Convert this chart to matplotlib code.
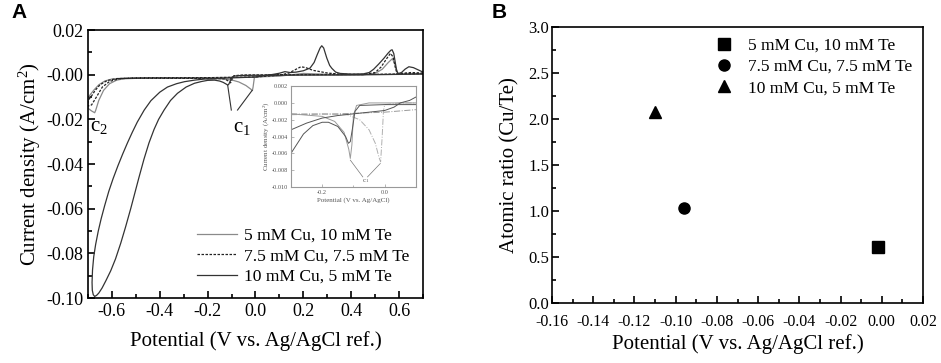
import numpy as np
import matplotlib
matplotlib.use('Agg')
import matplotlib.pyplot as plt
from matplotlib.ticker import MultipleLocator, FormatStrFormatter

plt.rcParams['font.family'] = ['Liberation Serif', 'DejaVu Serif']
plt.rcParams['mathtext.fontset'] = 'custom'
plt.rcParams['mathtext.rm'] = 'Liberation Serif'
plt.rcParams['mathtext.it'] = 'Liberation Serif:italic'
plt.rcParams['axes.unicode_minus'] = False

# ---- data panel A : cyclic voltammograms (V, A/cm2) ----
labels_cv = ['5 mM Cu, 10 mM Te', '7.5 mM Cu, 7.5 mM Te', '10 mM Cu, 5 mM Te']

cv_5cu = [(0.70, 0.0003), (0.55, 0.0001), (0.40, 0.0000), (0.20, -0.0001), (0.05, -0.0003),
          (0.00, -0.0006), (-0.005, -0.0015), (-0.010, -0.0055), (-0.013, -0.0071),
          (-0.02, -0.0064), (-0.04, -0.0048), (-0.07, -0.0032), (-0.10, -0.0023),
          (-0.15, -0.0018), (-0.25, -0.0016), (-0.40, -0.0016), (-0.50, -0.0016),
          (-0.55, -0.0018), (-0.58, -0.0024), (-0.61, -0.0040), (-0.635, -0.0070),
          (-0.655, -0.0115), (-0.668, -0.0160), (-0.672, -0.0170), (-0.685, -0.0162),
          (-0.70, -0.0150),
          (-0.70, -0.0105), (-0.69, -0.0088), (-0.675, -0.0068), (-0.655, -0.0045),
          (-0.63, -0.0028), (-0.60, -0.0019), (-0.55, -0.0015), (-0.40, -0.0014),
          (-0.20, -0.0013), (0.00, -0.0010), (0.10, -0.0006), (0.15, 0.0000),
          (0.20, 0.0006), (0.25, 0.0004), (0.35, 0.0000), (0.45, 0.0000), (0.50, 0.0006),
          (0.53, 0.0025), (0.555, 0.0055), (0.572, 0.0072), (0.582, 0.0050),
          (0.59, 0.0015), (0.60, 0.0002), (0.65, 0.0003), (0.70, 0.0005)]

cv_75cu = [(0.70, 0.0005), (0.50, 0.0002), (0.30, 0.0001), (0.10, 0.0000), (-0.05, -0.0001),
           (-0.09, -0.0004), (-0.098, -0.0020), (-0.104, -0.0036), (-0.11, -0.0030),
           (-0.13, -0.0018), (-0.20, -0.0016), (-0.40, -0.0015), (-0.52, -0.0015),
           (-0.57, -0.0018), (-0.61, -0.0030), (-0.64, -0.0055), (-0.665, -0.0100),
           (-0.685, -0.0135), (-0.70, -0.0140),
           (-0.70, -0.0115), (-0.685, -0.0095), (-0.67, -0.0070), (-0.65, -0.0045),
           (-0.62, -0.0026), (-0.58, -0.0017), (-0.45, -0.0014), (-0.20, -0.0013),
           (0.00, -0.0010), (0.10, -0.0002), (0.14, 0.0008), (0.17, 0.0025), (0.19, 0.0036),
           (0.21, 0.0032), (0.24, 0.0020), (0.30, 0.0008), (0.36, 0.0002), (0.45, 0.0001),
           (0.50, 0.0010), (0.525, 0.0035), (0.55, 0.0075), (0.564, 0.0096), (0.575, 0.0080),
           (0.585, 0.0030), (0.592, 0.0005), (0.65, 0.0010), (0.70, 0.0008)]

cv_10cu = [(0.70, 0.0004), (0.60, 0.0002), (0.50, 0.0001), (0.40, 0.0000), (0.30, -0.0001),
           (0.20, -0.0001), (0.10, -0.0002), (0.00, -0.0002), (-0.06, -0.0003),
           (-0.09, -0.0006), (-0.10, -0.0012), (-0.106, -0.0030), (-0.112, -0.0043),
           (-0.116, -0.0046), (-0.122, -0.0042), (-0.135, -0.0034), (-0.15, -0.0028),
           (-0.171, -0.0024), (-0.20, -0.0025), (-0.225, -0.0030), (-0.255, -0.0038),
           (-0.29, -0.0055), (-0.326, -0.0083), (-0.355, -0.0115), (-0.382, -0.0158),
           (-0.405, -0.0200), (-0.424, -0.0245), (-0.445, -0.0305), (-0.466, -0.0378),
           (-0.487, -0.0460), (-0.505, -0.0533), (-0.521, -0.0598), (-0.543, -0.0682),
           (-0.563, -0.0754), (-0.585, -0.0825), (-0.605, -0.0878), (-0.625, -0.0922),
           (-0.641, -0.0955), (-0.655, -0.0978), (-0.664, -0.0988), (-0.672, -0.0993),
           (-0.678, -0.0985), (-0.682, -0.0965), (-0.683, -0.0930), (-0.681, -0.0874),
           (-0.676, -0.0815), (-0.668, -0.0760), (-0.657, -0.0700), (-0.645, -0.0645),
           (-0.630, -0.0585), (-0.613, -0.0522), (-0.595, -0.0465), (-0.575, -0.0408),
           (-0.555, -0.0355), (-0.535, -0.0305), (-0.515, -0.0258), (-0.494, -0.0212),
           (-0.465, -0.0158), (-0.437, -0.0116), (-0.400, -0.0078), (-0.368, -0.0055),
           (-0.330, -0.0040), (-0.297, -0.0031), (-0.255, -0.0024), (-0.213, -0.0019),
           (-0.15, -0.0016), (-0.10, -0.0014), (-0.05, -0.0012), (0.00, -0.0010),
           (0.04, -0.0004), (0.08, 0.0003), (0.10, 0.0007), (0.123, 0.0014), (0.145, 0.0010),
           (0.17, 0.0012), (0.20, 0.0018), (0.228, 0.0030), (0.245, 0.0055), (0.258, 0.0090),
           (0.270, 0.0120), (0.277, 0.0130), (0.285, 0.0120), (0.298, 0.0075), (0.31, 0.0042),
           (0.319, 0.0029), (0.335, 0.0012), (0.354, 0.0006), (0.40, 0.0003), (0.45, 0.0004),
           (0.475, 0.0010), (0.494, 0.0025), (0.515, 0.0048), (0.536, 0.0073), (0.555, 0.0098),
           (0.566, 0.0110), (0.571, 0.0112), (0.578, 0.0095), (0.585, 0.0050), (0.589, 0.0025),
           (0.595, 0.0005), (0.61, 0.0010), (0.625, 0.0025), (0.641, 0.0036), (0.66, 0.0032),
           (0.68, 0.0022), (0.70, 0.0012)]

# inset (slower scan around c1)
in_5cu = [(-0.30, -0.0013), (-0.20, -0.0013), (-0.12, -0.0014), (-0.08, -0.0020),
          (-0.05, -0.0032), (-0.03, -0.0048), (-0.018, -0.0065), (-0.013, -0.0070),
          (-0.008, -0.0040), (-0.004, -0.0010), (0.00, -0.0002), (0.05, 0.0000), (0.10, 0.0000)]
in_5cu_back = [(-0.30, -0.0014), (-0.15, -0.0013), (0.00, -0.0011), (0.10, -0.0008)]
in_75cu = [(-0.30, -0.0013), (-0.20, -0.0016), (-0.16, -0.0022), (-0.13, -0.0035),
           (-0.115, -0.0055), (-0.11, -0.0066), (-0.105, -0.0050), (-0.10, -0.0015),
           (-0.09, -0.0003), (-0.05, 0.0000), (0.00, 0.0000), (0.10, 0.0000)]
in_10cu = [(0.10, -0.0002), (0.00, -0.0002), (-0.08, -0.0003), (-0.095, -0.0010),
           (-0.103, -0.0030), (-0.11, -0.0046), (-0.116, -0.0048), (-0.125, -0.0040),
           (-0.15, -0.0028), (-0.18, -0.0023), (-0.20, -0.0023), (-0.23, -0.0027),
           (-0.26, -0.0037), (-0.30, -0.0060)]
in_10cu_back = [(-0.30, -0.0032), (-0.25, -0.0024), (-0.20, -0.0018), (-0.15, -0.0015),
                (-0.10, -0.0013), (-0.05, -0.0011), (0.00, -0.0009), (0.03, -0.0005),
                (0.05, 0.0000), (0.08, 0.0003), (0.10, 0.0007)]

# ---- data panel B ----
labels_b = ['5 mM Cu, 10 mM Te', '7.5 mM Cu, 7.5 mM Te', '10 mM Cu, 5 mM Te']
pot_b = [-0.002, -0.096, -0.110]
ratio_b = [0.61, 1.03, 2.08]
markers_b = ['s', 'o', '^']

fig = plt.figure(figsize=(9.41, 3.63), dpi=100)
axA = fig.add_axes([0.0935, 0.179, 0.356, 0.738])
axB = fig.add_axes([0.5866, 0.1653, 0.3943, 0.7603])
axI = fig.add_axes([0.3092, 0.4848, 0.1328, 0.278])


def xy(pts):
    a = np.array(pts)
    return a[:, 0], a[:, 1]


def style_ax(ax, lw=1.0):
    for s in ax.spines.values():
        s.set_linewidth(lw)
    ax.tick_params(which='both', direction='in', top=False, right=False)
    ax.tick_params(which='major', length=5, width=lw)
    ax.tick_params(which='minor', length=3, width=lw)


# panel A
x, y = xy(cv_5cu)
axA.plot(x, y, color='#8a8a8a', lw=0.9, label=labels_cv[0])
x, y = xy(cv_75cu)
axA.plot(x, y, color='#222222', lw=0.9, ls=(0, (2, 1.2)), label=labels_cv[1])
x, y = xy(cv_10cu)
axA.plot(x, y, color='#333333', lw=0.9, label=labels_cv[2])
axA.set_xlim(-0.7, 0.7)
axA.set_ylim(-0.10, 0.02)
axA.xaxis.set_major_locator(MultipleLocator(0.2))
axA.xaxis.set_minor_locator(MultipleLocator(0.1))
axA.yaxis.set_major_locator(MultipleLocator(0.02))
axA.yaxis.set_minor_locator(MultipleLocator(0.01))
axA.xaxis.set_major_formatter(FormatStrFormatter('%.1f'))
axA.yaxis.set_major_formatter(FormatStrFormatter('%.2f'))
style_ax(axA, 1.2)
axA.tick_params(labelsize=13)
axA.set_xlabel('Potential (V vs. Ag/AgCl ref.)', fontsize=15, labelpad=8)
axA.set_ylabel('Current density (A/cm$^\\mathrm{2}$)', fontsize=15, labelpad=2)
axA.legend(loc='lower right', bbox_to_anchor=(1.0, 0.0), frameon=False, fontsize=12.6,
           handlelength=2.3, labelspacing=0.25, borderaxespad=0.35, handletextpad=0.4)
axA.text(-0.655, -0.0232, 'c$_\\mathrm{2}$', fontsize=15, ha='center', va='center')
axA.text(-0.058, -0.0238, 'c$_\\mathrm{1}$', fontsize=15, ha='center', va='center')
axA.plot([-0.101, -0.116], [-0.0158, -0.0048], color='#333333', lw=0.8)
axA.plot([-0.075, -0.014], [-0.0158, -0.0070], color='#333333', lw=0.8)

# inset
x, y = xy(in_5cu)
axI.plot(x, y, color='#b0b0b0', lw=0.7, ls='-.')
x, y = xy(in_5cu_back)
axI.plot(x, y, color='#9a9a9a', lw=0.7, ls='-.')
x, y = xy(in_75cu)
axI.plot(x, y, color='#9a9a9a', lw=0.7)
x, y = xy(in_10cu)
axI.plot(x, y, color='#555555', lw=0.7)
x, y = xy(in_10cu_back)
axI.plot(x, y, color='#555555', lw=0.7)
axI.plot([-0.07, -0.11], [-0.0088, -0.0068], color='#777777', lw=0.5)
axI.plot([-0.055, -0.014], [-0.0088, -0.0072], color='#777777', lw=0.5)
axI.text(-0.062, -0.0093, 'c$_\\mathrm{1}$', fontsize=5, ha='center', va='center', color='#555555')
axI.set_xlim(-0.3, 0.1)
axI.set_ylim(-0.010, 0.002)
axI.xaxis.set_major_locator(MultipleLocator(0.2))
axI.xaxis.set_minor_locator(MultipleLocator(0.1))
axI.yaxis.set_major_locator(MultipleLocator(0.002))
axI.xaxis.set_major_formatter(FormatStrFormatter('%.1f'))
axI.yaxis.set_major_formatter(FormatStrFormatter('%.3f'))
for s in axI.spines.values():
    s.set_color('#999999')
    s.set_linewidth(0.8)
axI.tick_params(which='both', direction='in', labelsize=4.5, colors='#555555', pad=2)
axI.tick_params(which='major', length=2.5, width=0.5, color='#999999')
axI.tick_params(which='minor', length=1.5, width=0.5, color='#999999')
axI.set_xlabel('Potential (V vs. Ag/AgCl)', fontsize=5, color='#555555', labelpad=2)
axI.set_ylabel('Current density (A/cm$^\\mathrm{2}$)', fontsize=5, color='#555555', labelpad=1)

# panel B
for px, py, m, lab in zip(pot_b, ratio_b, markers_b, labels_b):
    axB.plot(px, py, ls='none', marker=m, color='black', markersize=8 if m != '^' else 9, label=lab)
axB.set_xlim(-0.16, 0.02)
axB.set_ylim(0.0, 3.0)
axB.xaxis.set_major_locator(MultipleLocator(0.02))
axB.xaxis.set_minor_locator(MultipleLocator(0.01))
axB.yaxis.set_major_locator(MultipleLocator(0.5))
axB.yaxis.set_minor_locator(MultipleLocator(0.25))
axB.xaxis.set_major_formatter(FormatStrFormatter('%.2f'))
axB.yaxis.set_major_formatter(FormatStrFormatter('%.1f'))
style_ax(axB, 1.2)
axB.tick_params(axis='x', labelsize=11.5, pad=8)
axB.tick_params(axis='y', labelsize=12, pad=2)
axB.set_xlabel('Potential (V vs. Ag/AgCl ref.)', fontsize=15, labelpad=3)
axB.set_ylabel('Atomic ratio (Cu/Te)', fontsize=15, labelpad=6)
axB.legend(loc='upper right', frameon=False, fontsize=12.5, handlelength=1.2,
           labelspacing=0.3, borderaxespad=0.2, handletextpad=0.8)

fig.text(0.012, 0.965, 'A', fontsize=15, fontweight='bold', family='Liberation Sans', va='center')
fig.text(0.522, 0.965, 'B', fontsize=15, fontweight='bold', family='Liberation Sans', va='center')

fig.savefig('out.png', dpi=100)
